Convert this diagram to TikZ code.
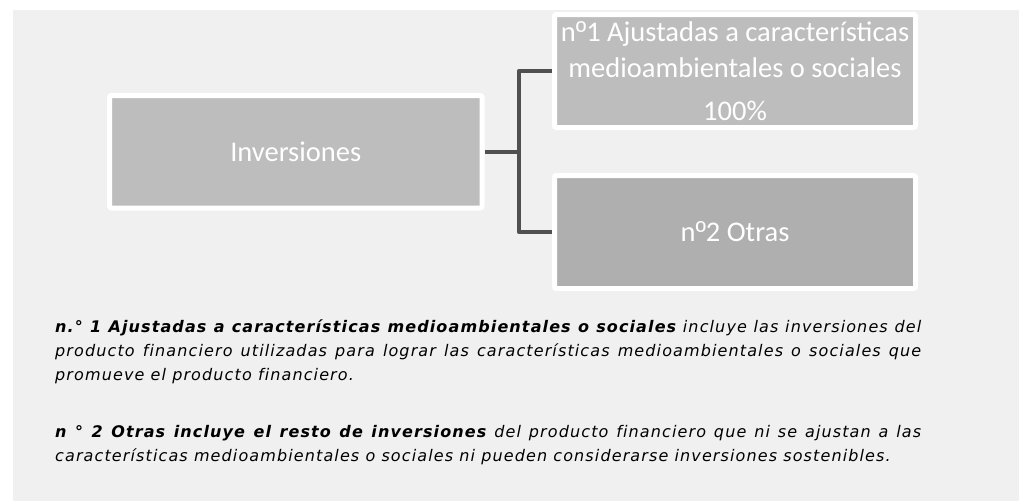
\documentclass[tikz,border=0pt]{standalone}
\usepackage{fontspec}
\setmainfont{DejaVu Sans}
\newfontfamily\boxfont{Carlito}
\newfontfamily\ordfont{Liberation Sans}
\newfontfamily\notefont[LetterSpace=7.0,Ligatures=NoCommon]{DejaVu Sans}
\definecolor{bgcol}{HTML}{F0F0F0}
\definecolor{boxa}{HTML}{BDBDBD}
\definecolor{boxb}{HTML}{AFAFAF}
\definecolor{conncol}{HTML}{505050}
\definecolor{notecol}{HTML}{000000}
\tikzset{
  catbox/.style={draw=white, line width=5pt, rounded corners=2pt, inner sep=0pt,
    text=white, align=center, minimum width=361pt, minimum height=113pt,
    font=\boxfont\fontsize{28.5}{36}\selectfont},
  connline/.style={draw=conncol, line width=4.5pt, line join=round},
  notetext/.style={anchor=base west, inner sep=0pt, text=notecol,
    font=\notefont\fontsize{16}{24}\selectfont}
}
\begin{document}
\begin{tikzpicture}[x=1pt,y=-1pt]
\useasboundingbox (0,0) rectangle (1019,501);
\fill[bgcol] (13,10) rectangle (1019,501);

\node[catbox, fill=boxa, minimum width=372.5pt, minimum height=112.5pt] (inv) at (295.75,151.75) {Inversiones};
\node[catbox, fill=boxa] (b1) at (735,71) {n{\ordfont º}1 Ajustadas a características\\medioambientales o sociales\\[7pt]100\%};
\node[catbox, fill=boxb] (b2) at (735,232) {n{\ordfont º}2 Otras};

\draw[connline] (inv.east) -- ++(34.5,0) coordinate (j);
\draw[connline] (b1.west) -| (j) |- (b2.west);

\node[notetext] (n1) at (55,332) {\parbox[t]{866pt}{\tolerance=10000\hyphenpenalty=10000\itshape
{\bfseries n.° 1 Ajustadas a características medioambientales o sociales} incluye las inversiones del\linebreak producto financiero utilizadas para lograr las características medioambientales o sociales que\linebreak promueve el producto financiero.}};
\node[notetext] (n2) at (55,437) {\parbox[t]{866pt}{\tolerance=10000\hyphenpenalty=10000\itshape
{\bfseries n ° 2 Otras incluye el resto de inversiones} del producto financiero que ni se ajustan a las\linebreak características medioambientales o sociales ni pueden considerarse inversiones sostenibles.}};
\end{tikzpicture}
\end{document}
